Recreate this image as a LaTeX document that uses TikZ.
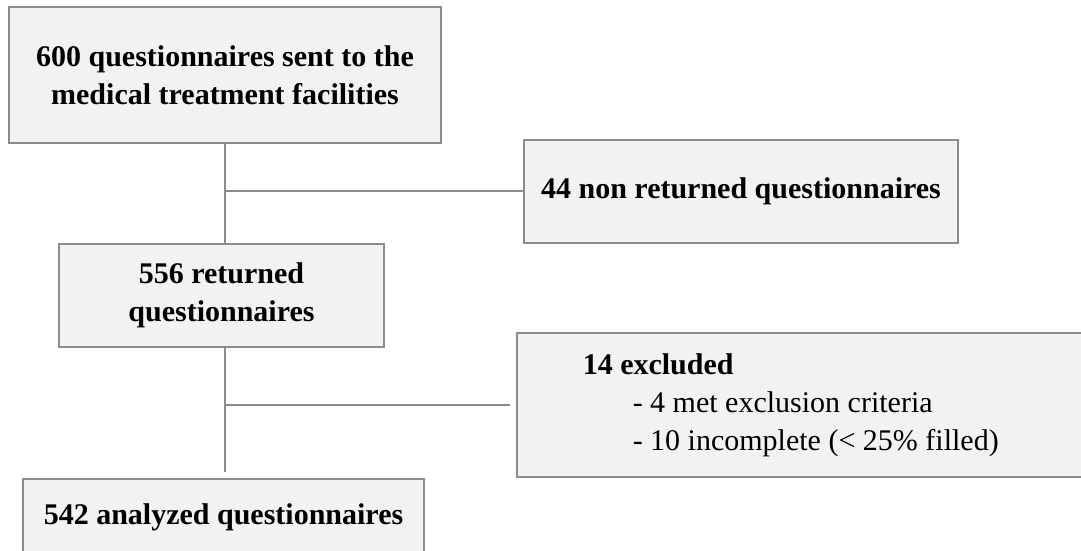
\documentclass[tikz,border=0pt]{standalone}
\usepackage{fontspec}
\setmainfont{Liberation Serif}
\usetikzlibrary{positioning}
\pgfdeclarelayer{nodelayer}
\pgfdeclarelayer{edgelayer}
\pgfsetlayers{nodelayer,edgelayer,main}
\definecolor{boxfill}{HTML}{F2F2F2}
\definecolor{boxline}{HTML}{8C8C8C}
\tikzset{
    none/.style = {inner sep=0pt},
    box/.style = {draw=boxline, fill=boxfill, line width=0.8pt, align=center, inner sep=0pt,
        font=\fontsize{12}{15.2}\selectfont\bfseries},
    listbox/.style = {draw=boxline, fill=boxfill, line width=0.8pt, align=flush left, inner ysep=0pt,
        font=\fontsize{12}{15.2}\selectfont},
    link/.style = {draw=boxline, line width=0.8pt}
}

\begin{document}
\begin{tikzpicture}[x=0.4pt, y=-0.4pt]
    \useasboundingbox (0, 0) rectangle (1081, 551);
    \begin{pgfonlayer}{nodelayer}
        \node [style=box, minimum width=172.8pt, minimum height=54.4pt] (0) at (225, 75) {600 questionnaires sent to the\\medical treatment facilities};
        \node [style=box, minimum width=173.6pt, minimum height=41.2pt] (1) at (741, 191.5) {44 non returned questionnaires};
        \node [style=box, minimum width=130pt, minimum height=41.2pt] (2) at (221.5, 295.5) {556 returned\\questionnaires};
        \node [style=listbox, text width=174.6pt, inner xsep=26.3pt, minimum height=57.6pt] (3) at (801, 405) {{\bfseries 14 excluded}\\\hspace*{20pt}- 4 met exclusion criteria\\\hspace*{20pt}- 10 incomplete (< 25\% filled)};
        \node [style=box, minimum width=160.4pt, minimum height=30.4pt] (4) at (223.5, 517) {542 analyzed questionnaires};
        \coordinate (5) at (0.south |- 1.west);
        \coordinate (6) at (0.south |- 3.west);
    \end{pgfonlayer}
    \begin{pgfonlayer}{edgelayer}
        \draw [style=link] (0.south) to (0.south |- 2.north);
        \draw [style=link] (5) to (1.west);
        \draw [style=link, shorten >=2.4pt] (0.south |- 2.south) to (0.south |- 4.north);
        \draw [style=link, shorten >=2.4pt] (6) to (3.west);
    \end{pgfonlayer}
\end{tikzpicture}
\end{document}
